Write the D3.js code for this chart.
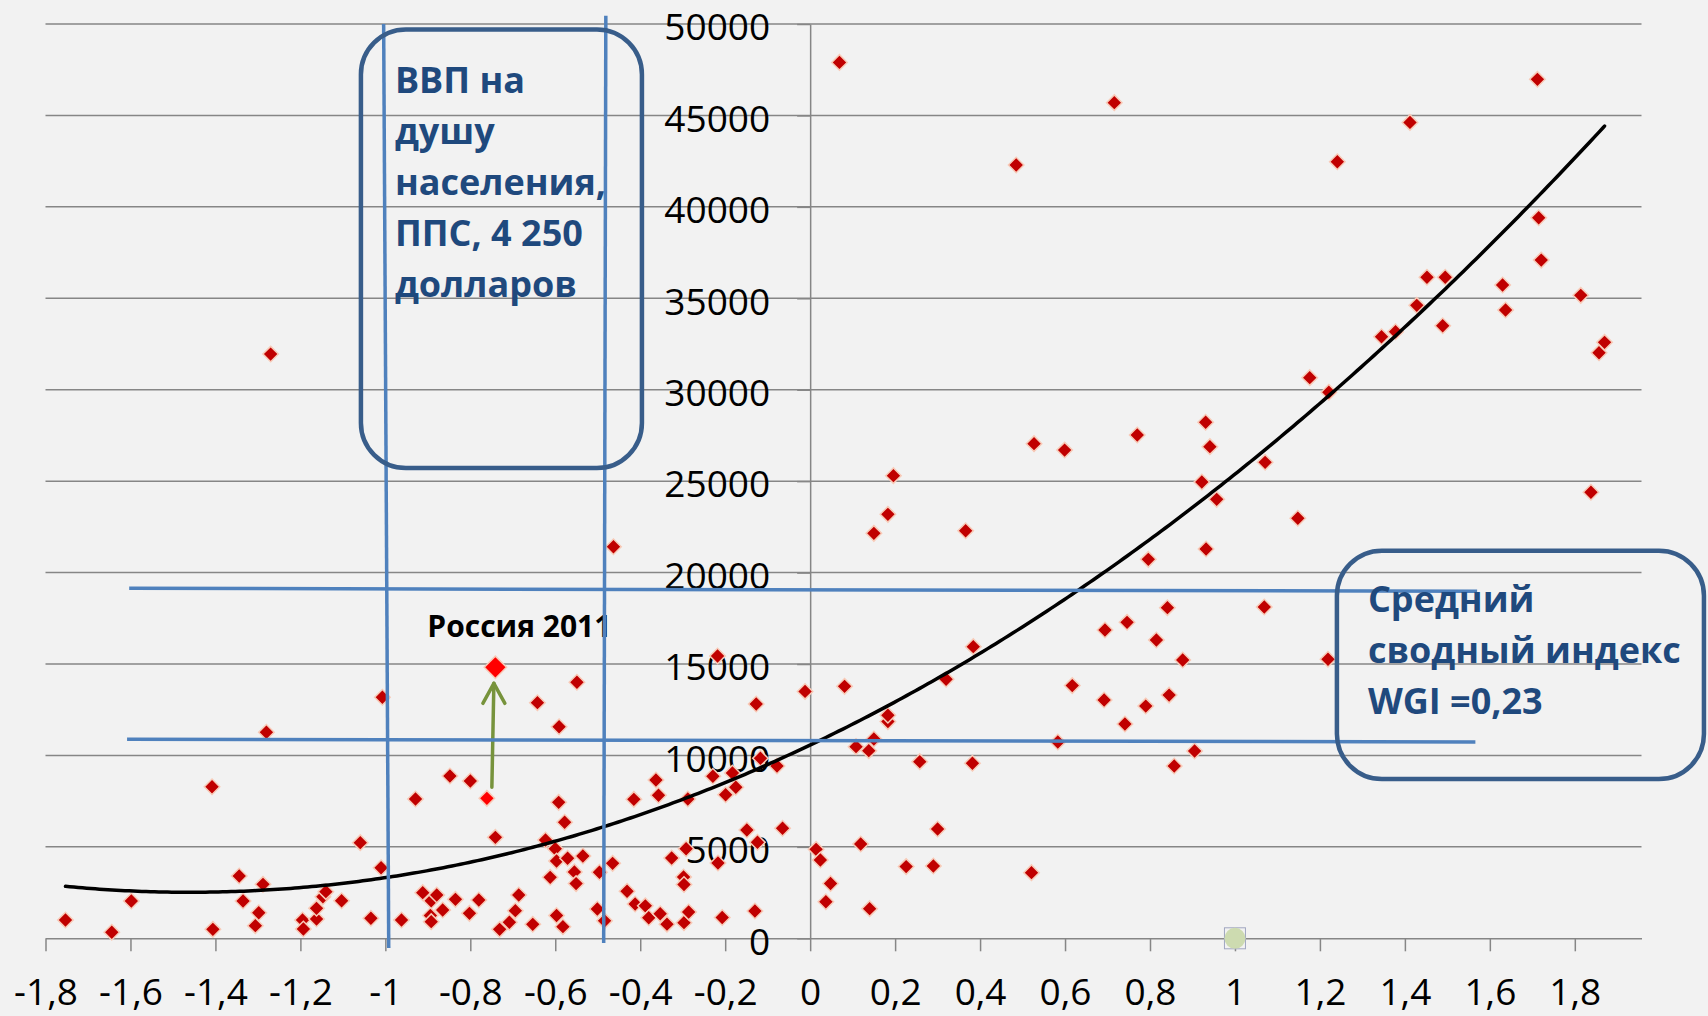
<!DOCTYPE html>
<html>
<head>
<meta charset="utf-8">
<script src="https://cdn.jsdelivr.net/npm/d3@7"></script>
<style>
  body { margin:0; background:#f2f2f2; }
  svg  { display:block; font-family:'Open Sans','Noto Sans',sans-serif; }
</style>
</head>
<body>
<svg id="chart" width="1708" height="1016"></svg>
<script>
// WGI aggregate index (x) vs GDP per capita, PPP (y), one value per country
const wgiIndex = [
  -1.753,-1.644,-1.598,-1.408,-1.406,-1.344,-1.335,-1.306,-1.298,-1.288,
  -1.280,-1.270,-1.195,-1.193,-1.162,-1.162,-1.147,-1.140,-1.103,-1.059,
  -1.034,-1.010,-1.007,-0.962,-0.929,-0.912,-0.894,-0.892,-0.892,-0.879,
  -0.865,-0.848,-0.835,-0.802,-0.800,-0.780,-0.741,-0.731,-0.708,-0.694,
  -0.686,-0.653,-0.642,-0.623,-0.612,-0.600,-0.597,-0.597,-0.592,-0.591,
  -0.582,-0.578,-0.571,-0.555,-0.551,-0.549,-0.535,-0.501,-0.496,-0.484,
  -0.465,-0.463,-0.431,-0.415,-0.412,-0.388,-0.380,-0.363,-0.357,-0.353,
  -0.337,-0.326,-0.298,-0.297,-0.297,-0.292,-0.288,-0.286,-0.229,-0.218,
  -0.217,-0.207,-0.199,-0.183,-0.175,-0.149,-0.130,-0.127,-0.124,-0.117,
  -0.078,-0.065,-0.012, 0.014, 0.024, 0.037, 0.048, 0.069, 0.081, 0.108,
   0.119, 0.138, 0.140, 0.150, 0.150, 0.183, 0.183, 0.183, 0.196, 0.226,
   0.258, 0.290, 0.300, 0.320, 0.366, 0.382, 0.384, 0.485, 0.521, 0.527,
   0.583, 0.599, 0.617, 0.692, 0.694, 0.716, 0.741, 0.746, 0.770, 0.790,
   0.796, 0.815, 0.841, 0.845, 0.857, 0.877, 0.905, 0.922, 0.931, 0.932,
   0.941, 0.957, 1.069, 1.071, 1.148, 1.176, 1.219, 1.221, 1.241, 1.345,
   1.378, 1.412, 1.428, 1.452, 1.489, 1.495, 1.630, 1.637, 1.712, 1.715,
   1.721, 1.814, 1.838, 1.857, 1.870
];
const gdpPerCapita = [
   1000,  330, 2040, 8290,  490, 3405, 2040,  690, 1400, 2950,
  11265,31950, 1000,  510, 1055, 1640, 2275, 2550, 2055, 5230,
   1095, 3860,13180, 1000, 7620, 2495, 1250, 2055,  910, 2370,
   1550, 8875, 2130, 1365, 8600, 2095, 5520,  490,  875, 1510,
   2370,  765,12885, 5375, 3335, 4900, 4225, 1250, 7435,11570,
    635, 6345, 4375, 3630, 2990,14000, 4500, 1600, 3610,  955,
   4100,21415, 2570, 7600, 1875, 1775, 1125, 8655, 7820, 1345,
    775, 4390, 3350, 2940,  855, 4900, 7620, 1440, 8860,15440,
   4120, 1140, 7850, 9040, 8260, 5920, 1490,12815, 5250, 9845,
   9420, 6015,13500, 4865, 4280, 2000, 3000,47900,13780,10480,
   5155,10260, 1620,10900,22145,11850,12200,23185,25300, 3920,
   9660, 3955, 5975,14165,22290, 9570,15950,42290, 3590,27050,
  10735,26700,13820,13030,16860,45700,11720,17280,27525,12700,
  20725,16310,18080,13300, 9420,15220,10245,24955,28220,21290,
  26885,24005,18120,26030,22970,30660,15260,29860,42470,32900,
  33170,44620,34615,36150,33500,36150,35730,34360,46975,39405,
  37090,35160,24390,32025,32590
];

// Russia: earlier value and 2011
const russiaIndex = [-0.761, -0.741];
const russiaGdp   = [7655, 14820];
const russiaLabel = 'Россия 2011';

// lone marker on the axis
const extraIndex = [1];
const extraGdp   = [0];

// polynomial trend, y = c0 + c1*x + c2*x^2
const trendCoef = [10570, 11033, 3779];

const xTicks = [-1.8,-1.6,-1.4,-1.2,-1,-0.8,-0.6,-0.4,-0.2,0,0.2,0.4,0.6,0.8,1,1.2,1.4,1.6,1.8];
const yTicks = [0,5000,10000,15000,20000,25000,30000,35000,40000,45000,50000];

// guide lines [x1, y1, x2, y2] in data units
const guideLines = [
  [-1.004, 50000, -0.992,  -530],
  [-0.481, 50450, -0.486,  -260],
  [-1.603, 19140,  1.570, 18975],
  [-1.608, 10880,  1.566, 10735]
];
// callout boxes [x1, y1, x2, y2] in data units, and their text
const boxes = [
  [-1.0575, 49700, -0.396, 25720],
  [ 1.240,  21200,  2.104,  8710]
];
const boxLines = [
  ['ВВП на', 'душу', 'населения,', 'ППС, 4 250', 'долларов'],
  ['Средний', 'сводный индекс', 'WGI =0,23']
];

const svg = d3.select('#chart');

const xs = d3.scaleLinear().domain([-1.8, 1.957]).range([45.5, 1641.5]);
const ys = d3.scaleLinear().domain([0, 50000]).range([938.3, 24]);

const gridcolor = '#868686';

// horizontal gridlines
svg.append('g').selectAll('line').data(yTicks.slice(1)).join('line')
   .attr('x1', xs(-1.8)).attr('x2', xs(1.957))
   .attr('y1', d => ys(d)).attr('y2', d => ys(d))
   .attr('stroke', gridcolor).attr('stroke-width', 1.5);

// x axis
const xaxis = svg.append('g').attr('transform', `translate(0,${ys(0)})`)
   .call(d3.axisBottom(xs).tickValues(xTicks).tickSizeInner(13).tickSizeOuter(0)
          .tickFormat(d => String(+d.toFixed(1)).replace('.', ',')));
// y axis, crossing at 0
const yaxis = svg.append('g').attr('transform', `translate(${xs(0)},0)`)
   .call(d3.axisLeft(ys).tickValues(yTicks).tickSizeInner(13).tickSizeOuter(0)
          .tickFormat(d3.format('d')));

[xaxis, yaxis].forEach(a => {
   a.attr('font-family', null).attr('font-size', 37);
   a.selectAll('path, line').attr('stroke', gridcolor).attr('stroke-width', 1.5);
   a.selectAll('text').attr('fill', '#000');
});
xaxis.selectAll('text').attr('y', 67).attr('dy', 0);
yaxis.selectAll('text').attr('x', -40).attr('y', 2.5).attr('dy', '0.36em');

// points
const diamond = d3.symbol(d3.symbolSquare, 120);
svg.append('g').selectAll('path').data(d3.range(wgiIndex.length)).join('path')
   .attr('d', diamond)
   .attr('transform', i => `translate(${xs(wgiIndex[i])},${ys(gdpPerCapita[i])}) rotate(45)`)
   .attr('fill', '#c00000')
   .attr('stroke', '#f8cbb8').attr('stroke-width', 1.5);

// marker at (1, 0)
const em = svg.append('g')
   .attr('transform', `translate(${xs(extraIndex[0])},${ys(extraGdp[0])})`);
em.append('rect').attr('x', -10.5).attr('y', -10.5).attr('width', 21).attr('height', 21)
   .attr('fill', 'none').attr('stroke', '#a0a6c0').attr('stroke-width', 1);
em.append('circle').attr('r', 10.5).attr('fill', '#cddbb0');

// trend
const trend = x => trendCoef[0] + trendCoef[1]*x + trendCoef[2]*x*x;
const ext = d3.extent(wgiIndex);
const tx = d3.range(ext[0], ext[1], 0.01).concat([ext[1]]);
svg.append('path')
   .attr('d', d3.line().x(x => xs(x)).y(x => ys(trend(x)))(tx))
   .attr('fill', 'none').attr('stroke', '#000').attr('stroke-width', 3.5)
   .attr('stroke-linecap', 'round');

// Russia
const rs = d3.range(russiaIndex.length);
svg.append('g').selectAll('path').data(rs).join('path')
   .attr('d', i => d3.symbol(d3.symbolSquare, i == rs.length-1 ? 250 : 120)())
   .attr('transform', i => `translate(${xs(russiaIndex[i])},${ys(russiaGdp[i])}) rotate(45)`)
   .attr('fill', '#ff0000')
   .attr('stroke', '#f8cbb8').attr('stroke-width', 1.5);

// arrow between the two Russia points
const ax = xs(russiaIndex[0]) + 5, ay0 = ys(russiaGdp[0]) - 11, ay1 = ys(russiaGdp[1]) + 16;
const arrow = svg.append('g').attr('stroke', '#77933c').attr('stroke-width', 3.5)
   .attr('fill', 'none').attr('stroke-linecap', 'round').attr('stroke-linejoin', 'round');
arrow.append('line').attr('x1', ax).attr('y1', ay0).attr('x2', ax + 2).attr('y2', ay1);
arrow.append('path').attr('d', `M${ax-9},${ay1+20} L${ax+2},${ay1} L${ax+13},${ay1+20}`);

svg.append('text')
   .attr('x', xs(russiaIndex[1]) - 68).attr('y', ys(russiaGdp[1]) - 30)
   .attr('font-size', 30).attr('font-weight', 'bold').attr('fill', '#000')
   .text(russiaLabel);

// guide lines
svg.append('g').selectAll('line').data(guideLines).join('line')
   .attr('x1', d => xs(d[0])).attr('y1', d => ys(d[1]))
   .attr('x2', d => xs(d[2])).attr('y2', d => ys(d[3]))
   .attr('stroke', '#4f81bd').attr('stroke-width', 3.5);

// callout boxes
boxes.forEach((b, k) => {
   const x0 = xs(b[0]), y0 = ys(b[1]);
   svg.append('rect')
      .attr('x', x0).attr('y', y0)
      .attr('width', xs(b[2]) - x0).attr('height', ys(b[3]) - y0)
      .attr('rx', 45).attr('ry', 45)
      .attr('fill', 'none').attr('stroke', '#385d8a').attr('stroke-width', 4.5);
   svg.append('g').selectAll('text').data(boxLines[k]).join('text')
      .attr('x', x0 + (k == 0 ? 34 : 31))
      .attr('y', (d, i) => y0 + (k == 0 ? 64 : 61) + i*51)
      .attr('font-size', 36).attr('font-weight', 'bold').attr('fill', '#1f497d')
      .text(d => d);
});
</script>
</body>
</html>
